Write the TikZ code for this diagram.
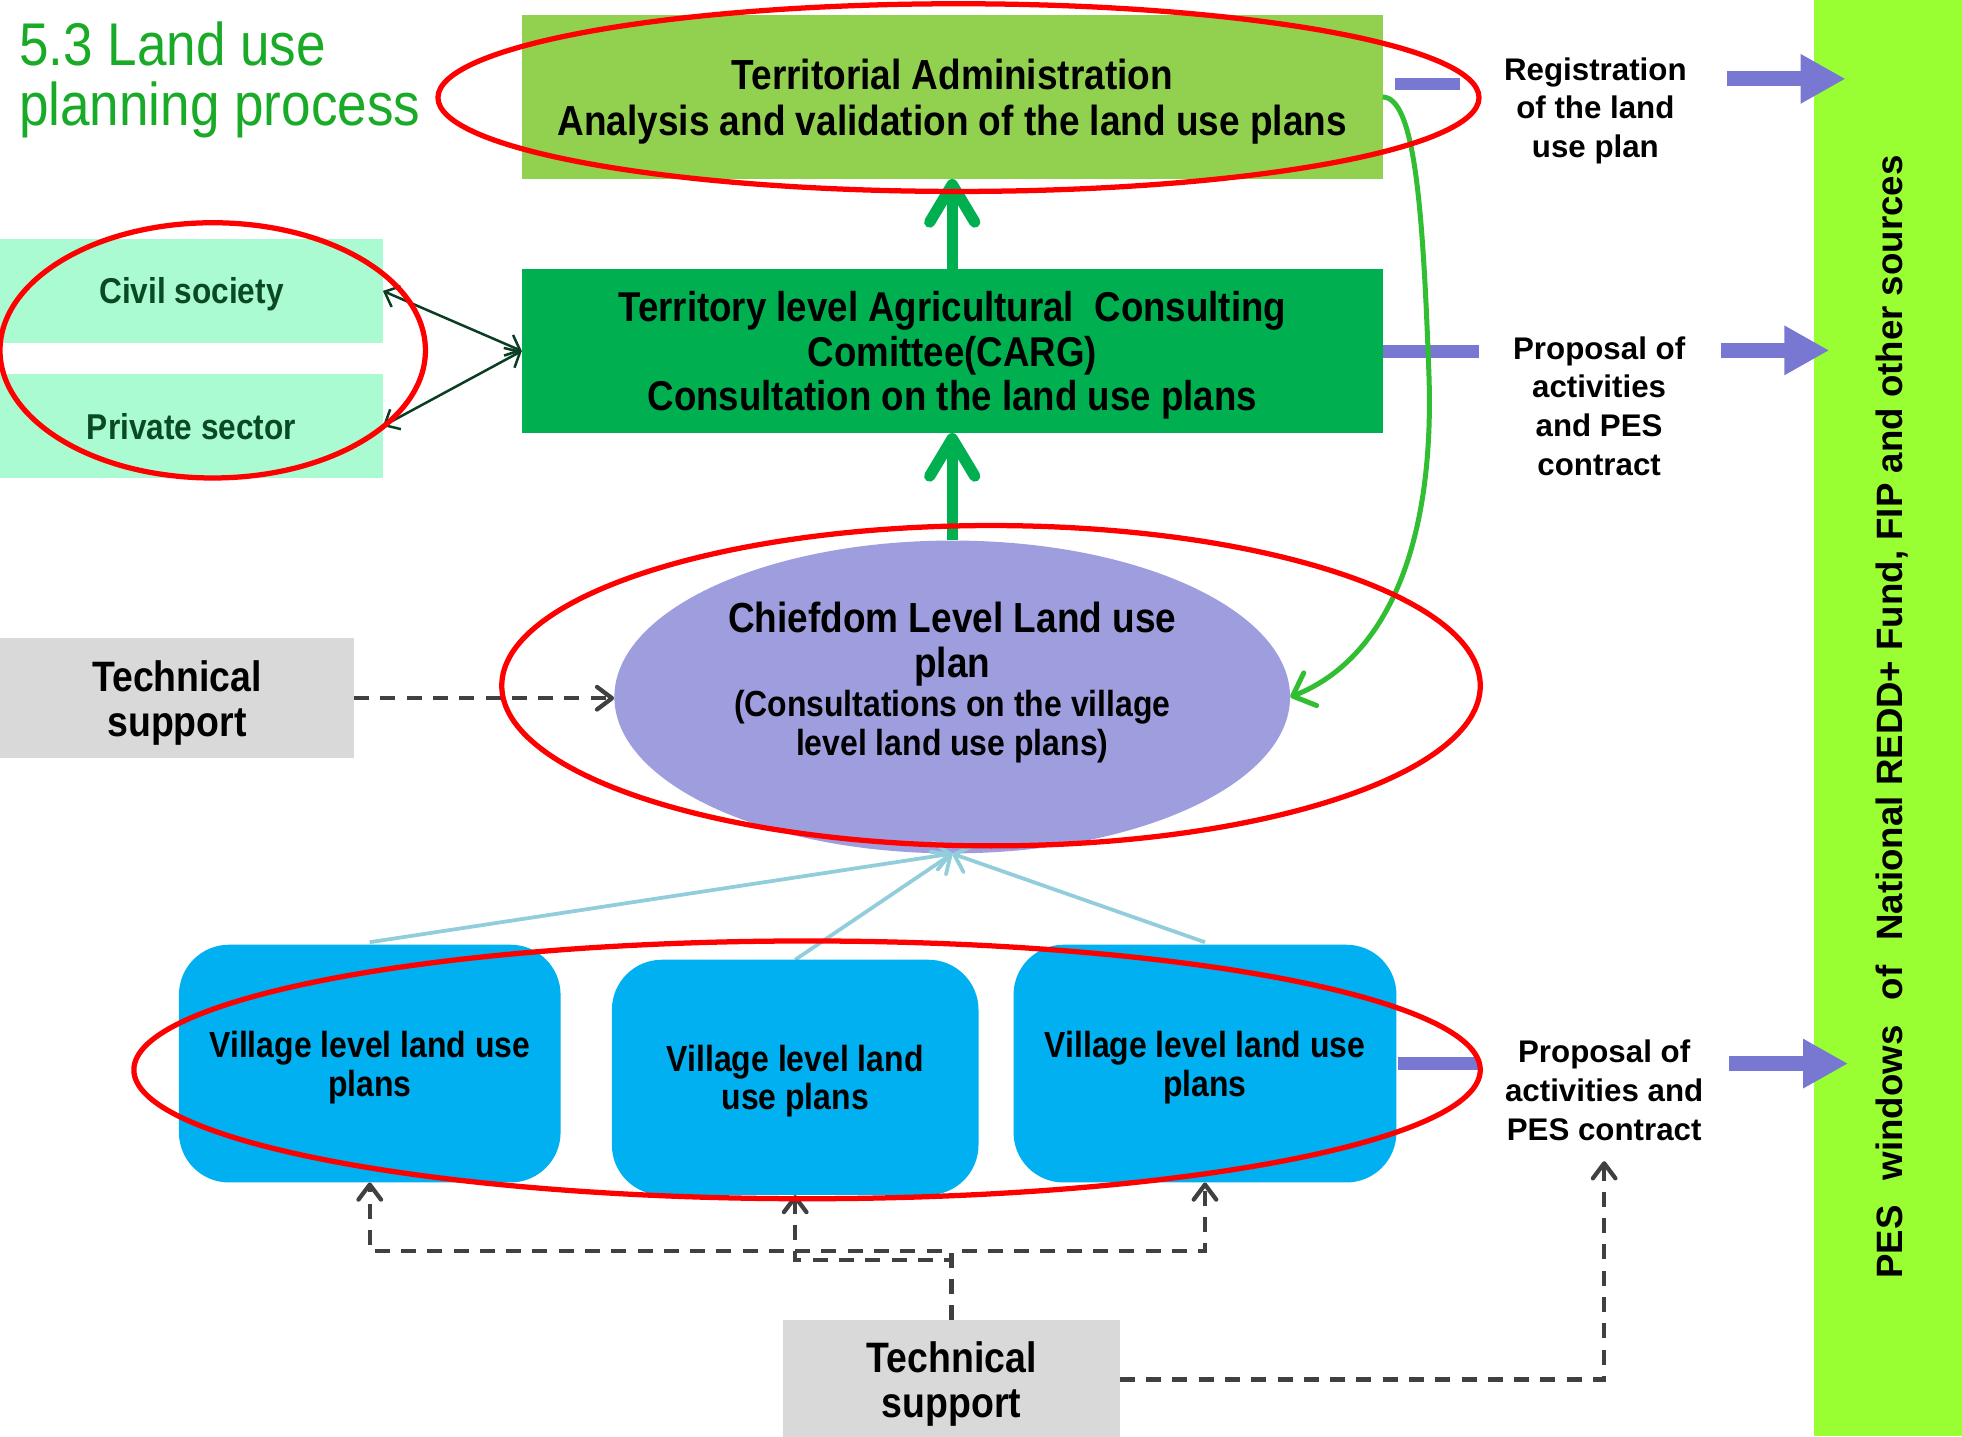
\documentclass[tikz,border=0pt]{standalone}
\usepackage{fontspec}
\setmainfont{Liberation Sans}
\newfontfamily\nar[FakeStretch=0.88]{Liberation Sans}
\usetikzlibrary{arrows.meta,shapes.geometric,calc}
\definecolor{tagreen}{HTML}{92D050}
\definecolor{carggreen}{HTML}{00B050}
\definecolor{mint}{HTML}{AAFAD2}
\definecolor{civtext}{HTML}{094A25}
\definecolor{barblue}{RGB}{120,120,210}
\definecolor{chiefc}{RGB}{158,158,222}
\definecolor{villagec}{HTML}{00B0F0}
\definecolor{limec}{HTML}{99FF33}
\definecolor{tsgray}{HTML}{D9D9D9}
\definecolor{titlegreen}{RGB}{25,170,40}
\definecolor{curvegreen}{RGB}{50,190,50}
\definecolor{lightbluec}{HTML}{92CDDC}
\definecolor{dashgray}{HTML}{404040}
\definecolor{dkgreenline}{HTML}{0B3D22}
\begin{document}
\begin{tikzpicture}[x=1pt,y=-1pt,
  plainbox/.style={rectangle, inner sep=0pt, outer sep=0pt, align=center, text depth=0pt},
  bigtxt/.style={font=\nar\bfseries\fontsize{33.6}{37}\selectfont},
  vbox/.style={plainbox, rounded corners=40pt, fill=villagec, font=\nar\bfseries\fontsize{29}{31}\selectfont},
  widetxt/.style={align=center, font=\bfseries\fontsize{25}{31}\selectfont},
  redring/.style={draw=red, line width=4.2pt},
  bigarrow/.style={draw=carggreen, line width=9pt, -{Straight Barb[length=30pt,width=36pt,round]}},
  bluearrow/.style={draw=lightbluec, line width=3pt, -{Straight Barb[length=12pt,width=22pt,round]}},
  civline/.style={draw=dkgreenline, line width=2pt, {Straight Barb[length=10pt,width=18pt]}-{Straight Barb[length=10pt,width=18pt]}},
  dasharrow/.style={draw=dashgray, line width=3.4pt, dash pattern=on 12pt off 9pt, -{Straight Barb[length=12pt,width=18pt,round]}},
  barstub/.style={draw=barblue, line width=10pt},
  fatarrow/.style={draw=barblue, line width=12pt, -{Triangle[length=36pt,width=37pt]}},
  curvearrow/.style={draw=curvegreen, line width=4pt, -{Straight Barb[length=15pt,width=28pt,round]}}
]
\useasboundingbox (0,0) rectangle (1568,1148);
\fill[white] (0,0) rectangle (1568,1148);

% funding bar
\node[plainbox, fill=limec, minimum width=118pt, minimum height=1148pt] (fund) at (1509,574) {};
\node[rotate=90, font=\bfseries\fontsize{29.3}{31}\selectfont] (fundtxt) at (1512,573)
  {PES\hspace{20pt}windows\hspace{20pt}of\hspace{20pt}National REDD+ Fund, FIP and other sources};

% title
\node[anchor=base west, inner sep=0pt, text=titlegreen, font=\nar\fontsize{48.2}{48}\selectfont] (title1) at (15,52) {5.3 Land use};
\node[anchor=base west, inner sep=0pt, text=titlegreen, font=\nar\fontsize{48.2}{48}\selectfont] (title2) at (15,100) {planning process};

% main boxes
\node[plainbox, bigtxt, fill=tagreen, minimum width=688pt, minimum height=131pt] (ta) at (761,77.5)
  {Territorial Administration\\Analysis and validation of the land use plans};
\node[plainbox, fill=carggreen, minimum width=688pt, minimum height=131pt, font=\nar\bfseries\fontsize{33.3}{35.5}\selectfont] (carg) at (761,280.5)
  {Territory level Agricultural\ \ Consulting\\Comittee(CARG)\\Consultation on the land use plans};

\node[plainbox, fill=mint, minimum width=306pt, minimum height=83pt, text=civtext, font=\nar\bfseries\fontsize{28.7}{31}\selectfont] (civ) at (153,232.5) {Civil society};
\node[plainbox, fill=mint, minimum width=306pt, minimum height=83pt, text=civtext, font=\nar\bfseries\fontsize{28.7}{31}\selectfont] (priv) at (153,340.5) {Private sector};

\node[plainbox, fill=tsgray, minimum width=283pt, minimum height=96pt, font=\nar\bfseries\fontsize{34}{36}\selectfont] (tsl) at (141.5,558) {Technical\\support};

% chiefdom
\node[ellipse, fill=chiefc, minimum width=540pt, minimum height=250pt, inner sep=0pt] (chief) at (761,557) {};
\node[align=center, text depth=0pt, font=\nar\bfseries\fontsize{33.6}{36}\selectfont] (chiefA) at (761,511) {Chiefdom Level Land use\\plan};
\node[align=center, text depth=0pt, font=\nar\bfseries\fontsize{29}{31}\selectfont] (chiefB) at (761,577.5) {(Consultations on the village\\level land use plans)};

% light blue connectors (under villages)
\draw[bluearrow] (295.5,753) -- (chief.south);
\draw[bluearrow] (635.5,767) -- (chief.south);
\draw[bluearrow] (963,753) -- (chief.south);

% villages
\node[vbox, minimum width=305pt, minimum height=190pt] (v1) at (295.5,850) {Village level land use\\plans};
\node[vbox, minimum width=293pt, minimum height=188pt] (v2) at (635.5,861) {Village level land\\use plans};
\node[vbox, minimum width=306pt, minimum height=190pt] (v3) at (963,850) {Village level land use\\plans};

\node[plainbox, fill=tsgray, minimum width=269pt, minimum height=95pt, font=\nar\bfseries\fontsize{34}{36}\selectfont] (tsb) at (760.5,1102.5) {Technical\\support};

% right texts
\node[widetxt, text depth=0pt] (reg) at (1275,86) {Registration\\of the land\\use plan};
\node[widetxt] (prop1) at (1278,324.5) {Proposal of\\activities\\and PES\\contract};
\node[widetxt] (prop3) at (1282,871.5) {Proposal of\\activities and\\PES contract};

% purple stubs and arrows
\coordinate (b1s) at (1115,67); \coordinate (b1e) at (1167,67);
\coordinate (b2s) at (1105,281); \coordinate (b2e) at (1182,281);
\coordinate (b3s) at (1117,850); \coordinate (b3e) at (1182,850);
\draw[barstub] (b1s) -- (b1e);
\draw[barstub] (b2s) -- (b2e);
\draw[barstub] (b3s) -- (b3e);
\coordinate (a1s) at (1380,63); \coordinate (a1e) at (1475,63);
\coordinate (a2s) at (1375,280); \coordinate (a2e) at (1462,280);
\coordinate (a3s) at (1382,850); \coordinate (a3e) at (1477,850);
\draw[fatarrow] (a1s) -- (a1e);
\draw[fatarrow] (a2s) -- (a2e);
\draw[fatarrow] (a3s) -- (a3e);

% green arrows
\draw[bigarrow] (carg.north) -- (ta.south);
\draw[bigarrow] (chief.north) -- (carg.south);
\draw[curvearrow] (ta.east) .. controls (1130,78) and (1137,160) .. (1142,300) .. controls (1147,450) and (1100,530) .. (chief.east);

% civil / private
\draw[civline] (civ.east) -- (carg.west);
\draw[civline] (priv.east) -- (carg.west);

% dashed technical support
\draw[dasharrow] (tsl.east) -- (tsl.east -| chief.west);
\draw[dasharrow] (tsb.north) -- ++(0,-55) -| (v1.south);
\draw[dasharrow] (tsb.north) -- ++(0,-55) -| (v3.south);
\draw[dasharrow] (tsb.north) -- ++(0,-48) -| (v2.south);
\coordinate (p3tip) at (1282,928);
\draw[dasharrow] (tsb.east) -| (p3tip);

% red rings
\draw[redring] (766,78) ellipse [x radius=416, y radius=75];
\draw[redring] (170,280) ellipse [x radius=170, y radius=102];
\draw[redring] (792,548) ellipse [x radius=391, y radius=128];
\draw[redring] (645,855) ellipse [x radius=538, y radius=103];
\end{tikzpicture}
\end{document}
